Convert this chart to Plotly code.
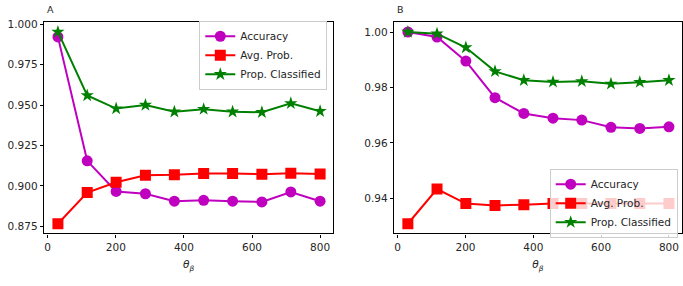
import plotly.graph_objects as go

theta = [30, 116, 201, 287, 372, 458, 543, 629, 714, 800]

acc_a = [0.9923, 0.9155, 0.8965, 0.8951, 0.8905, 0.8910, 0.8905, 0.8900, 0.8962, 0.8905]
prob_a = [0.8765, 0.8958, 0.9022, 0.9066, 0.9068, 0.9076, 0.9076, 0.9072, 0.9078, 0.9074]
prop_a = [0.9954, 0.9560, 0.9479, 0.9501, 0.9459, 0.9475, 0.9459, 0.9456, 0.9511, 0.9462]

acc_b = [1.0000, 0.9982, 0.9895, 0.9763, 0.9706, 0.9689, 0.9682, 0.9656, 0.9652, 0.9658]
prob_b = [0.9308, 0.9433, 0.9381, 0.9374, 0.9377, 0.9381, 0.9381, 0.9381, 0.9381, 0.9381]
prop_b = [1.0000, 0.9994, 0.9944, 0.9858, 0.9826, 0.9820, 0.9822, 0.9813, 0.9819, 0.9826]

names = ["Accuracy", "Avg. Prob.", "Prop. Classified"]
colors = ["#BF00BF", "#FF0000", "#008000"]
symbols = ["circle", "square", "star"]
sizes = [11, 11, 10]

W, H = 683, 286
FONT = "DejaVu Sans"

fig = go.Figure()

panels = [
    ([acc_a, prob_a, prop_a], "x", "y", "legend"),
    ([acc_b, prob_b, prop_b], "x2", "y2", "legend2"),
]
for series, xa, ya, lg in panels:
    for vals, nm, c, s, sz in zip(series, names, colors, symbols, sizes):
        fig.add_trace(go.Scatter(
            x=theta, y=vals, name=nm, mode="lines+markers",
            line=dict(color=c, width=2),
            marker=dict(symbol=s, size=sz, color=c, line=dict(width=0)),
            xaxis=xa, yaxis=ya, legend=lg,
        ))

def px_x(p):
    return p / W

def px_y(p):
    return 1 - p / H

axis_common = dict(
    showline=True, linecolor="black", linewidth=1.2, mirror=True,
    ticks="outside", ticklen=3.5, tickwidth=0.9, tickcolor="black",
    showgrid=False, zeroline=False,
    tickfont=dict(family=FONT, size=10.5, color="#262626"),
)

xtitle = dict(text="<i>θ</i><sub><i>β</i></sub>", font=dict(family=FONT, size=10.5, color="#262626"), standoff=9)

fig.update_layout(
    width=W, height=H,
    margin=dict(l=0, r=0, t=0, b=0),
    paper_bgcolor="white", plot_bgcolor="white",
    font=dict(family=FONT, size=10.5, color="#262626"),
    xaxis=dict(domain=[px_x(44.3), px_x(332.7)], range=[-10, 837], tickvals=[0, 200, 400, 600, 800],
               anchor="y", title=xtitle, **axis_common),
    yaxis=dict(domain=[px_y(232.7), px_y(18.3)], range=[0.8705, 1.0015],
               tickvals=[0.875, 0.900, 0.925, 0.950, 0.975, 1.000], tickformat=".3f",
               anchor="x", **axis_common),
    xaxis2=dict(domain=[px_x(394.3), px_x(681.5)], range=[-10, 837], tickvals=[0, 200, 400, 600, 800],
                anchor="y2", title=xtitle, **axis_common),
    yaxis2=dict(domain=[px_y(232.7), px_y(18.3)], range=[0.9273, 1.0036],
                tickvals=[0.94, 0.96, 0.98, 1.00], tickformat=".2f",
                anchor="x2", **axis_common),
    legend=dict(x=px_x(327.3), y=px_y(17), xanchor="right", yanchor="top",
                bgcolor="rgba(255,255,255,0.8)", bordercolor="#cccccc", borderwidth=1,
                font=dict(family=FONT, size=10.5, color="#262626"), tracegroupgap=0,
                itemwidth=30),
    legend2=dict(x=px_x(677.7), y=px_y(237), xanchor="right", yanchor="bottom",
                 bgcolor="rgba(255,255,255,0.8)", bordercolor="#cccccc", borderwidth=1,
                 font=dict(family=FONT, size=10.5, color="#262626"), tracegroupgap=0,
                 itemwidth=30),
    showlegend=True,
    annotations=[
        dict(text="A", x=px_x(45), y=px_y(-2.5), xref="paper", yref="paper", xanchor="left", yanchor="top",
             showarrow=False, font=dict(family=FONT, size=9.5, color="#262626")),
        dict(text="B", x=px_x(395), y=px_y(-2.5), xref="paper", yref="paper", xanchor="left", yanchor="top",
             showarrow=False, font=dict(family=FONT, size=9.5, color="#262626")),
    ],
)

fig.write_html("out.html")
